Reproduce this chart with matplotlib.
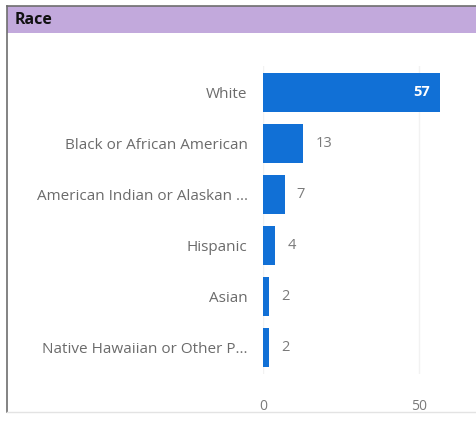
import matplotlib
matplotlib.use('Agg')
import matplotlib.pyplot as plt
from matplotlib.patches import Rectangle
from matplotlib.lines import Line2D

# --- data ---
categories = ['White', 'Black or African American', 'American Indian or Alaskan ...',
              'Hispanic', 'Asian', 'Native Hawaiian or Other P...']
counts = [57, 13, 7, 4, 2, 2]
xticks = [0, 50]

plt.rcParams['font.family'] = ['Open Sans', 'DejaVu Sans']

W, H = 477, 425
fig = plt.figure(figsize=(W / 100, H / 100), dpi=100)
fig.patch.set_facecolor('white')

# --- panel frame and title bar ---
fig.patches.append(Rectangle((7 / W, 1 - 33 / H), 1 - 7 / W, 27 / H,
                             transform=fig.transFigure, facecolor='#c2a9dc',
                             edgecolor='none', zorder=0))
fig.lines.append(Line2D([7 / W, 1], [1 - 6 / H, 1 - 6 / H], transform=fig.transFigure,
                        color='#6e6e6e', lw=1.2))
fig.lines.append(Line2D([7 / W, 7 / W], [1 - 6 / H, 1 - 412 / H], transform=fig.transFigure,
                        color='#6e6e6e', lw=1.2))
fig.lines.append(Line2D([7 / W, 1], [1 - 412 / H, 1 - 412 / H], transform=fig.transFigure,
                        color='#e3e3e3', lw=1))
fig.text(15 / W, 1 - 20 / H, 'Race', fontsize=11.5, fontweight='bold',
         color='#111111', va='center', ha='left')

# --- bar chart ---
ax = fig.add_axes([263 / W, 1 - 373.5 / H, 193 / W, 307 / H])
y = list(range(len(categories)))
ax.barh(y, counts, height=0.76, color='#1170d6', zorder=2)
ax.set_ylim(len(categories) - 0.5, -0.5)
ax.set_xlim(0, 62)

ax.set_yticks(y)
ax.set_yticklabels(categories, fontsize=11, color='#6b6b6b')
ax.set_xticks(xticks)
ax.set_xticklabels([str(t) for t in xticks], fontsize=10, color='#7a7a7a')
ax.tick_params(axis='y', length=0, pad=11)
ax.tick_params(axis='x', length=0, pad=18)
ax.grid(axis='x', color='#f2f2f2', lw=1, zorder=0)
for s in ax.spines.values():
    s.set_visible(False)

for yi, v in zip(y, counts):
    if v > 40:
        ax.text(v - 3.5, yi, str(v), ha='right', va='center', fontsize=10.5,
                fontweight='bold', color='white')
    else:
        ax.text(v + 3.8, yi, str(v), ha='left', va='center', fontsize=10.5,
                color='#7a7a7a')

fig.savefig('out.png', dpi=100)
